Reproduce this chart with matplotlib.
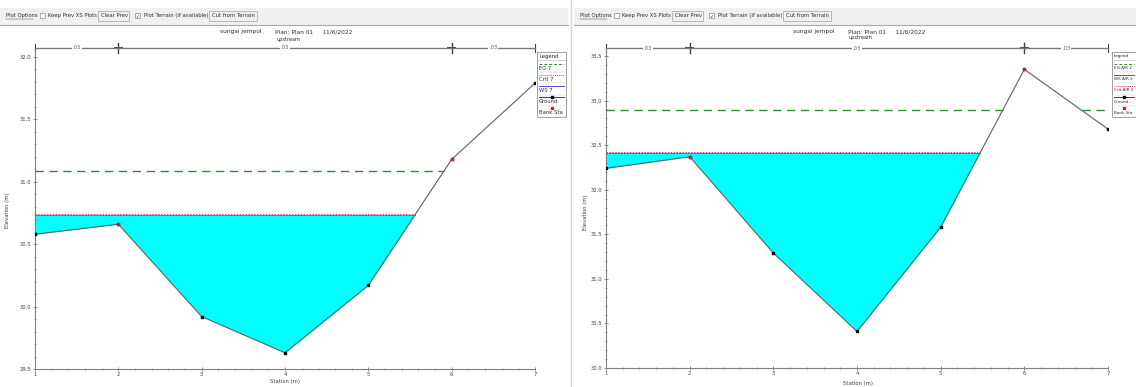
"""Two HEC-RAS cross-section screenshots (sungai jempol) side by side."""

import numpy as np
import matplotlib
matplotlib.use('Agg')
import matplotlib.pyplot as plt
from matplotlib.patches import Rectangle
from matplotlib.ticker import MultipleLocator

# ---- data ----
stations = [1, 2, 3, 4, 5, 6, 7]
bank_stations = [2, 6]
n_labels = ['.03', '.03', '.03']

left_ground = [30.58, 30.66, 29.92, 29.63, 30.17, 31.18, 31.79]
left_ws = 30.73
left_crit = 30.745
left_eg = 31.09
left_legend = ['EG 7', 'Crit 7', 'WS 7', 'Ground', 'Bank Sta']

right_ground = [32.24, 32.37, 31.29, 30.41, 31.58, 33.35, 32.68]
right_ws = 32.41
right_crit = 32.425
right_eg = 32.89
right_legend = ['EG AIR 2', 'WS AIR 2', 'Crit AIR 2', 'Ground', 'Bank Sta']

title_river = 'sungai jempol'
title_plan = 'Plan: Plan 01     11/6/2022'
title_reach = 'upstream'

W, H = 1136, 387
fig = plt.figure(figsize=(W / 100, H / 100), dpi=100)
fig.patch.set_facecolor('white')

# overlay in pixel coords for the window chrome
ov = fig.add_axes([0, 0, 1, 1], zorder=0)
ov.set_xlim(0, W)
ov.set_ylim(H, 0)
ov.axis('off')

AXC = '#808080'
FS = 3.8
EGC = '#2f8f2f'


def px_axes(x0, y0, x1, y1):
    return fig.add_axes([x0 / W, 1 - y1 / H, (x1 - x0) / W, (y1 - y0) / H], zorder=2)


def wet_spans(ground, level):
    """Station ranges where the ground is below a level (linear crossings)."""
    spans, start = [], None
    for i in range(len(stations)):
        below = ground[i] < level
        if below and start is None:
            if i == 0:
                start = stations[0]
            else:
                g0, g1 = ground[i - 1], ground[i]
                start = stations[i - 1] + (level - g0) / (g1 - g0)
        if not below and start is not None:
            g0, g1 = ground[i - 1], ground[i]
            spans.append((start, stations[i - 1] + (level - g0) / (g1 - g0)))
            start = None
    if start is not None:
        spans.append((start, stations[-1]))
    return spans


def toolbar(x0, x1):
    ov.add_patch(Rectangle((x0, 8), x1 - x0, 17, facecolor='#f0f0f0', edgecolor='none'))
    ov.plot([x0, x1], [25, 25], color='#a8a8a8', lw=0.8)
    ov.text(x0 + 6, 15.5, 'Plot Options', fontsize=FS, va='center', color='#303030')
    ov.plot([x0 + 6, x0 + 33], [18.5, 18.5], color='#303030', lw=0.3)
    ov.add_patch(Rectangle((x0 + 40, 13), 5, 5, facecolor='white', edgecolor='#707070', lw=0.4))
    ov.text(x0 + 48, 15.5, 'Keep Prev XS Plots', fontsize=FS, va='center', color='#303030')
    ov.add_patch(Rectangle((x0 + 98, 10.5), 31, 10, facecolor='#f0f0f0', edgecolor='#909090', lw=0.4))
    ov.text(x0 + 101, 15.5, 'Clear Prev', fontsize=FS, va='center', color='#303030')
    ov.add_patch(Rectangle((x0 + 135, 13), 5, 5, facecolor='white', edgecolor='#707070', lw=0.4))
    ov.text(x0 + 135.3, 15.6, '✓', fontsize=3.5, va='center', color='#202020')
    ov.text(x0 + 144, 15.5, 'Plot Terrain (if available)', fontsize=FS, va='center', color='#303030')
    ov.add_patch(Rectangle((x0 + 209, 10.5), 48, 10, facecolor='#f0f0f0', edgecolor='#909090', lw=0.4))
    ov.text(x0 + 212, 15.5, 'Cut from Terrain', fontsize=FS, va='center', color='#303030')


def legend_box(x0, y0, x1, labels, styles, fs=FS):
    y1 = 117
    ov.add_patch(Rectangle((x0, y0), x1 - x0, y1 - y0, facecolor='white',
                           edgecolor='#909090', lw=0.6, zorder=5))
    ov.text(x0 + 2, y0 + 4.5, 'Legend', fontsize=fs, va='center', color='#202020', zorder=6)
    ov.plot([x0, x1], [y0 + 8, y0 + 8], color='#b0b0b0', lw=0.4, zorder=6)
    step = (y1 - y0 - 9) / len(labels)
    for k, (lab, st) in enumerate(zip(labels, styles)):
        yy = y0 + 9 + k * step
        sx = [x0 + 2, x1 - 2]
        if st.get('ls') is not None:
            ov.plot(sx, [yy + 2.5, yy + 2.5], color=st['c'], lw=0.7, ls=st['ls'], zorder=6)
        if st.get('m'):
            ov.plot((x0 + x1) / 2, yy + 2.5, marker='s', ms=1.6, color=st['mc'], zorder=7)
        ov.text(x0 + 2, yy + 7, lab, fontsize=fs, va='center', color='#303030', zorder=6)
        ov.plot([x0, x1], [yy + step, yy + step], color='#c8c8c8', lw=0.3, zorder=6)


def xs_panel(px, ground, ws, crit, eg, ylo, yhi, ystep, top):
    ax = px_axes(*px)
    ax.patch.set_alpha(0)
    ax.set_xlim(1, 7)
    ax.set_ylim(ylo, top)
    g = np.array(ground)

    # water
    ax.fill_between(stations, ground, ws, where=g <= ws + 1e-9, interpolate=True,
                    color='#00ffff', lw=0, zorder=1)
    for a, b in wet_spans(ground, ws):
        ax.plot([a, b], [crit, crit], color='#e0407a', lw=0.7, ls=(0, (1.5, 1.5)), zorder=3)
        ax.plot([a, b], [ws, ws], color='#5a4ad0', lw=0.6, zorder=3)
    for a, b in wet_spans(ground, eg):
        ax.plot([a, b], [eg, eg], color=EGC, lw=1.0, ls=(0, (6, 4)), zorder=3)

    # ground & bank stations
    ax.plot(stations, ground, color='#606060', lw=0.8, zorder=4)
    ax.plot(stations, ground, ls='none', marker='s', ms=1.8, color='black', zorder=5)
    bidx = [stations.index(b) for b in bank_stations]
    ax.plot(bank_stations, [ground[i] for i in bidx], ls='none', marker='s', ms=1.8,
            color='#d02020', zorder=6)

    # n-value bar along the top
    ax.plot([1, 7], [top, top], color='#7a7a7a', lw=1.0, clip_on=False, zorder=4)
    dy = (top - ylo) * 0.012
    for s in [1, 7]:
        ax.plot([s, s], [top - dy, top + dy], color='#404040', lw=0.8, clip_on=False)
    for s in bank_stations:
        ax.plot([s, s], [top - 1.4 * dy, top + 1.4 * dy], color='#404040', lw=1.0, clip_on=False)
        ax.plot([s - 0.04, s + 0.04], [top, top], color='#404040', lw=1.4, clip_on=False)
    edges = [1] + bank_stations + [7]
    for k, lab in enumerate(n_labels):
        xm = (edges[k] + edges[k + 1]) / 2
        ax.text(xm, top, lab, fontsize=FS, ha='center', va='center', color='#606060',
                bbox=dict(boxstyle='square,pad=0.15', facecolor='white', edgecolor='none'),
                zorder=5, clip_on=False)

    for sp in ['top', 'right']:
        ax.spines[sp].set_visible(False)
    for sp in ['left', 'bottom']:
        ax.spines[sp].set_color(AXC)
        ax.spines[sp].set_linewidth(0.8)
    ax.set_xticks(stations)
    ax.set_xticklabels([str(s) for s in stations])
    ax.xaxis.set_minor_locator(MultipleLocator(0.2))
    yt = np.arange(ylo, yhi + 1e-6, ystep)
    ax.set_yticks(yt)
    ax.set_yticklabels([f'{v:.1f}' for v in yt])
    ax.yaxis.set_minor_locator(MultipleLocator(0.1))
    ax.tick_params(which='major', direction='inout', length=3, width=0.6, color=AXC,
                   labelsize=FS, labelcolor='#404040', pad=1)
    ax.tick_params(which='minor', direction='inout', length=1.6, width=0.5, color=AXC)
    return ax


# ---- left window ----
toolbar(0, 568)
ov.text(241, 32, title_river, fontsize=4.2, ha='center', va='center', color='#303030')
ov.text(275, 32, title_plan, fontsize=4.2, ha='left', va='center', color='#303030')
ov.text(289, 39, title_reach, fontsize=3.6, ha='center', va='center', color='#303030')
xs_panel((35, 48, 535, 369), left_ground, left_ws, left_crit, left_eg,
         29.5, 32.0, 0.5, 32.0 + 9 / 124.8)
ov.text(8, 210, 'Elevation (m)', fontsize=FS, rotation=90, ha='center', va='center', color='#404040')
ov.text(285, 382, 'Station (m)', fontsize=FS, ha='center', va='center', color='#404040')
legend_box(537, 52, 566, left_legend,
           [dict(c=EGC, ls=(0, (3, 2))), dict(c='#e0407a', ls=(0, (1, 1))),
            dict(c='#5a4ad0', ls='-'), dict(c='#404040', ls='-', m=True, mc='black'),
            dict(m=True, mc='#d02020')])

# separator between the two windows
ov.plot([570.5, 570.5], [0, H], color='#d8d8d8', lw=1.0)

# ---- right window ----
toolbar(574, W)
ov.text(814, 32, title_river, fontsize=4.2, ha='center', va='center', color='#303030')
ov.text(848, 32, title_plan, fontsize=4.2, ha='left', va='center', color='#303030')
ov.text(861, 38, title_reach, fontsize=3.6, ha='center', va='center', color='#303030')
xs_panel((606, 48, 1108, 368), right_ground, right_ws, right_crit, right_eg,
         30.0, 33.5, 0.5, 33.5 + 8 / 89.14)
ov.text(585, 212, 'Elevation (m)', fontsize=FS, rotation=90, ha='center', va='center', color='#404040')
ov.text(858, 383, 'Station (m)', fontsize=FS, ha='center', va='center', color='#404040')
legend_box(1112, 52, 1135.5, right_legend,
           [dict(c=EGC, ls=(0, (3, 2))), dict(c='#5a4ad0', ls='-'),
            dict(c='#e0407a', ls=(0, (1, 1))), dict(c='#404040', ls='-', m=True, mc='black'),
            dict(m=True, mc='#d02020')], fs=3.0)

fig.savefig('out.png', dpi=100, facecolor='white')
